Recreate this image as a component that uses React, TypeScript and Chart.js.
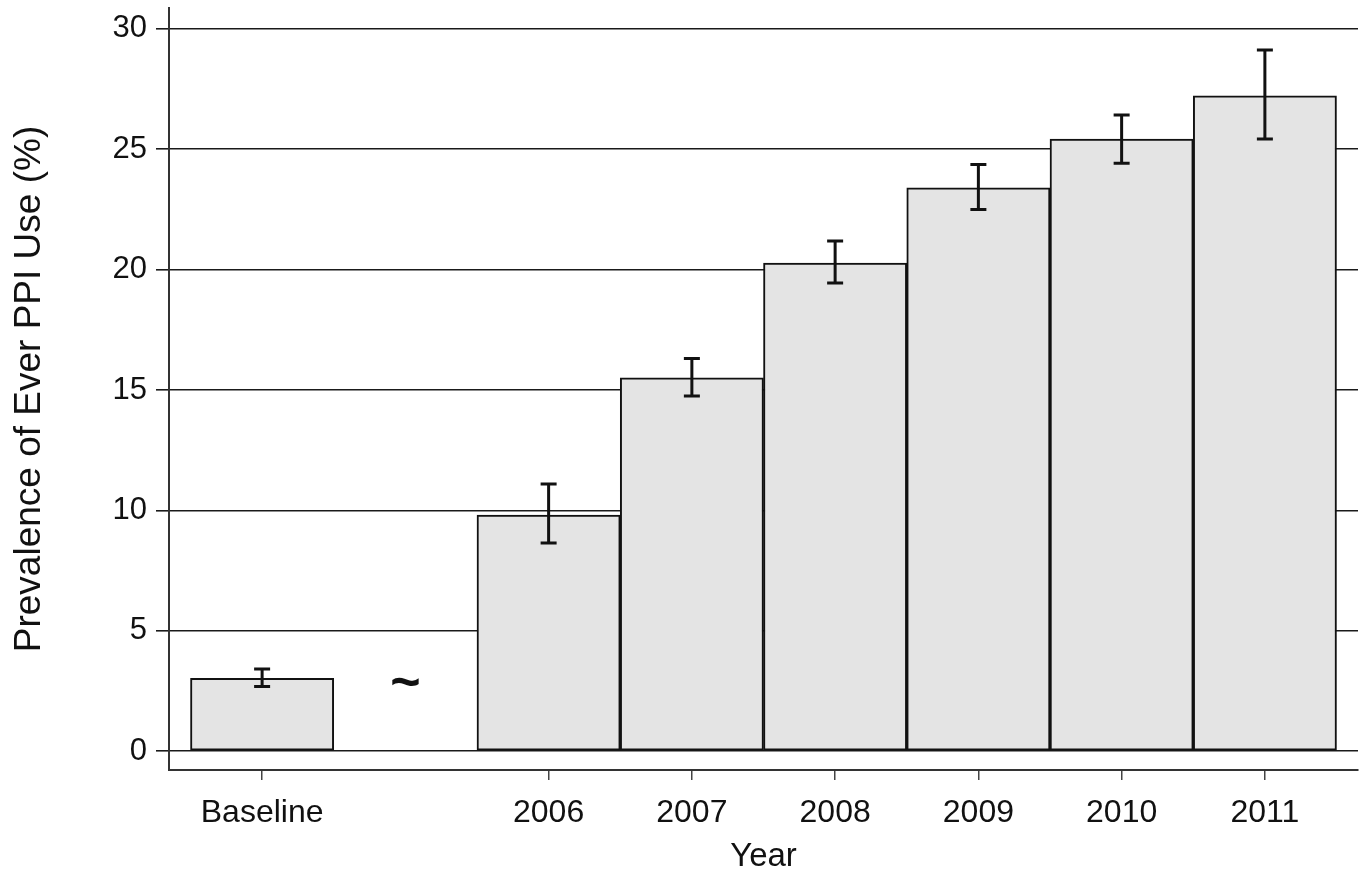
import React, { useEffect, useRef } from "react";
import { Chart, registerables } from "chart.js";

Chart.register(...registerables);

const categories = ["Baseline", "", "2006", "2007", "2008", "2009", "2010", "2011"];
const prevalence: (number | null)[] = [3.02, null, 9.8, 15.5, 20.27, 23.4, 25.42, 27.22];
const ciLower: (number | null)[] = [2.68, null, 8.64, 14.75, 19.44, 22.5, 24.42, 25.43];
const ciUpper: (number | null)[] = [3.41, null, 11.09, 16.31, 21.19, 24.37, 26.42, 29.12];
const yTickValues = [0, 5, 10, 15, 20, 25, 30];
const breakMarkLabel = "~";
const breakMarkIndex = 1;
const breakMarkValue = 2.75;
const xTitle = "Year";
const yTitle = "Prevalence of Ever PPI Use (%)";

const FONT = "'Liberation Sans', Arial, Helvetica, sans-serif";

const errorBarPlugin = {
  id: "errorBars",
  afterDatasetsDraw(chart: any) {
    const { ctx, scales } = chart;
    const xs = scales.x;
    const ys = scales.y;
    ctx.save();
    ctx.strokeStyle = "#111";
    ctx.lineWidth = 3;
    ctx.lineCap = "butt";
    const half = 8;
    for (let i = 0; i < categories.length; i++) {
      const lo = ciLower[i];
      const hi = ciUpper[i];
      if (lo == null || hi == null) continue;
      const px = xs.getPixelForValue(i);
      const pLo = ys.getPixelForValue(lo);
      const pHi = ys.getPixelForValue(hi);
      ctx.beginPath();
      ctx.moveTo(px, pLo);
      ctx.lineTo(px, pHi);
      ctx.moveTo(px - half, pLo);
      ctx.lineTo(px + half, pLo);
      ctx.moveTo(px - half, pHi);
      ctx.lineTo(px + half, pHi);
      ctx.stroke();
    }
    // break marker
    ctx.fillStyle = "#111";
    ctx.font = `bold 52px ${FONT}`;
    ctx.textAlign = "center";
    ctx.textBaseline = "middle";
    ctx.fillText(breakMarkLabel, xs.getPixelForValue(breakMarkIndex), ys.getPixelForValue(breakMarkValue));
    ctx.restore();
  },
};

export default function App() {
  const ref = useRef<HTMLCanvasElement | null>(null);
  useEffect(() => {
    document.body.style.margin = "0";
    const canvas = ref.current;
    if (!canvas) return;
    const data = categories
      .map((c, i) => ({ x: i, y: prevalence[i] }))
      .filter((d) => d.y != null);
    const chart = new Chart(canvas, {
      type: "bar",
      data: {
        datasets: [
          {
            data: data as any,
            backgroundColor: "#e4e4e4",
            borderColor: "#111",
            borderWidth: 2,
            borderSkipped: false,
            barPercentage: 1,
            categoryPercentage: 1,
          },
        ],
      },
      options: {
        responsive: false,
        animation: false,
        events: [],
        layout: { padding: { top: 8, right: 5, left: 0, bottom: 0 } },
        plugins: { legend: { display: false }, tooltip: { enabled: false } },
        scales: {
          x: {
            type: "linear",
            offset: false,
            min: -0.65,
            max: 7.65,
            afterBuildTicks: (scale: any) => {
              scale.ticks = categories
                .map((c, i) => ({ value: i, label: c }))
                .filter((t) => t.label !== "")
                .map((t) => ({ value: t.value }));
            },
            afterFit: (scale: any) => {
              scale.height = 105;
              scale.paddingLeft = 0;
              scale.paddingRight = 0;
            },
            ticks: {
              autoSkip: false,
              maxRotation: 0,
              padding: 14,
              color: "#111",
              font: { family: FONT, size: 32, lineHeight: 1.2 },
              callback: (v: any) => categories[Math.round(Number(v))] ?? "",
            },
            grid: {
              offset: false,
              drawOnChartArea: false,
              drawTicks: true,
              tickLength: 10,
              color: "#444",
              lineWidth: 1.5,
            },
            border: { display: true, color: "#333", width: 2 },
            title: {
              display: true,
              text: xTitle,
              color: "#111",
              font: { family: FONT, size: 33, lineHeight: 1 },
              padding: { top: 0, bottom: 2 },
            },
          },
          y: {
            type: "linear",
            min: -0.79,
            max: 30.87,
            afterBuildTicks: (scale: any) => {
              scale.ticks = yTickValues.map((v) => ({ value: v }));
            },
            afterFit: (scale: any) => {
              scale.width = 169;
              scale.paddingTop = 0;
              scale.paddingBottom = 0;
            },
            ticks: {
              padding: 9,
              color: "#111",
              font: { family: FONT, size: 31 },
              callback: (v: any) => String(v),
            },
            grid: {
              drawOnChartArea: true,
              drawTicks: true,
              tickLength: 13,
              color: "#1a1a1a",
              lineWidth: 1.6,
            },
            border: { display: true, color: "#333", width: 2 },
            title: {
              display: true,
              text: yTitle,
              color: "#111",
              font: { family: FONT, size: 37, lineHeight: 1.2 },
              padding: { top: 8, bottom: 0 },
            },
          },
        },
      },
      plugins: [errorBarPlugin],
    } as any);
    return () => chart.destroy();
  }, []);
  return (
    <div style={{ width: 1363, height: 875 }}>
      <canvas ref={ref} width={1363} height={875} style={{ display: "block" }} />
    </div>
  );
}
